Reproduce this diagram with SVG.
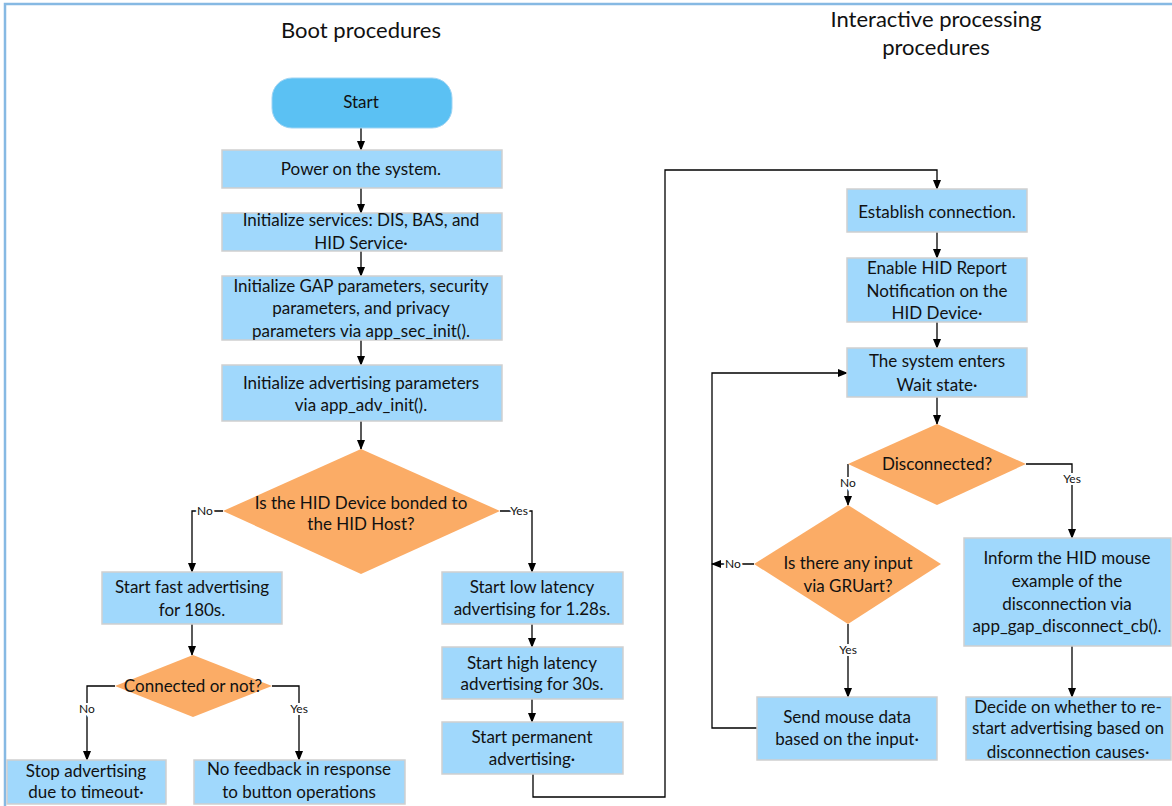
<svg xmlns="http://www.w3.org/2000/svg" width="1172" height="806" viewBox="0 0 1172 806">
<defs>
<marker id="arr" markerWidth="10" markerHeight="10" refX="9" refY="5" orient="auto" markerUnits="userSpaceOnUse">
<path d="M0,1 L10,5 L0,9 Z" fill="#000"/>
</marker>
<style>
.box{fill:#a0d8fc;stroke:#cfcfcf;stroke-width:1.5}
.dia{fill:#fbac66;stroke:none}
.t{font-family:Lato,"Liberation Sans",sans-serif;font-size:17px;fill:#111;text-anchor:middle}
.h{font-family:Lato,"Liberation Sans",sans-serif;font-size:22px;fill:#111;text-anchor:middle}
.lbl{font-family:Lato,"Liberation Sans",sans-serif;font-size:12px;fill:#111;text-anchor:middle;stroke:#fff;stroke-width:4;paint-order:stroke}
.c{fill:none;stroke:#000;stroke-width:1.3}
.ca{fill:none;stroke:#000;stroke-width:1.3;marker-end:url(#arr)}
</style>
</defs>
<rect x="0" y="0" width="1172" height="806" fill="#fff"/>
<rect x="5" y="4" width="1300" height="900" fill="none" stroke="#86b9e3" stroke-width="2.5"/>

<text class="h" x="361" y="38">Boot procedures</text>
<text class="h" x="936" y="27">Interactive processing</text>
<text class="h" x="936" y="55">procedures</text>

<g id="connectors">
<path class="ca" d="M361,128 V150"/>
<path class="ca" d="M361,188 V213"/>
<path class="ca" d="M361,251 V276"/>
<path class="ca" d="M361,340 V365"/>
<path class="ca" d="M361,421 V449"/>
<path class="ca" d="M223,511 H192 V572"/>
<path class="ca" d="M500,511 H532 V572"/>
<path class="ca" d="M192,624 V655"/>
<path class="ca" d="M115,686 H87 V760"/>
<path class="ca" d="M272,686 H299 V760"/>
<path class="ca" d="M532,624 V647"/>
<path class="ca" d="M532,699 V722"/>
<path class="ca" d="M533,774 V797 H665 V170 H937 V189"/>
<path class="ca" d="M937,232 V258"/>
<path class="ca" d="M937,322 V348"/>
<path class="ca" d="M937,397 V424"/>
<path class="ca" d="M848,464 V505"/>
<path class="ca" d="M1026,464 H1072 V538"/>
<path class="ca" d="M754,564 H712"/>
<path class="ca" d="M757,728 H712 V373 H847"/>
<path class="ca" d="M848,624 V697"/>
<path class="ca" d="M1072,646 V697"/>
<text class="lbl" x="205" y="515">No</text>
<text class="lbl" x="519" y="515">Yes</text>
<text class="lbl" x="87" y="713">No</text>
<text class="lbl" x="299" y="713">Yes</text>
<text class="lbl" x="848" y="487">No</text>
<text class="lbl" x="1072" y="483">Yes</text>
<text class="lbl" x="733" y="568">No</text>
<text class="lbl" x="848" y="654">Yes</text>
</g>

<g id="start">
<rect x="272" y="78" width="180" height="50" rx="20" fill="#5bc1f3" stroke="#9fd4f3" stroke-width="1"/>
<text class="t" x="361" y="108">Start</text>
</g>
<g id="power">
<rect class="box" x="222" y="150" width="280" height="38"/>
<text class="t" x="361" y="175">Power on the system.</text>
</g>
<g id="init-services">
<rect class="box" x="222" y="213" width="280" height="38"/>
<text class="t" x="361" y="226">Initialize services: DIS, BAS, and</text>
<text class="t" x="361" y="249">HID Service·</text>
</g>
<g id="init-gap">
<rect class="box" x="222" y="276" width="280" height="64"/>
<text class="t" x="361" y="292">Initialize GAP parameters, security</text>
<text class="t" x="361" y="314">parameters, and privacy</text>
<text class="t" x="361" y="337">parameters via app_sec_init().</text>
</g>
<g id="init-adv">
<rect class="box" x="222" y="365" width="280" height="56"/>
<text class="t" x="361" y="389">Initialize advertising parameters</text>
<text class="t" x="361" y="411">via app_adv_init().</text>
</g>
<g id="bonded">
<polygon class="dia" points="361,449 500,511 361,574 223,511"/>
<text class="t" x="361" y="509">Is the HID Device bonded to</text>
<text class="t" x="361" y="530">the HID Host?</text>
</g>
<g id="fast-adv">
<rect class="box" x="102" y="572" width="180" height="52"/>
<text class="t" x="192" y="593">Start fast advertising</text>
<text class="t" x="192" y="616">for 180s.</text>
</g>
<g id="connected">
<polygon class="dia" points="193,655 272,686 193,717 115,686"/>
<text class="t" x="193" y="692">Connected or not?</text>
</g>
<g id="stop-adv">
<rect class="box" x="7" y="760" width="159" height="44"/>
<text class="t" x="86" y="777">Stop advertising</text>
<text class="t" x="86" y="798">due to timeout·</text>
</g>
<g id="no-feedback">
<rect class="box" x="194" y="760" width="211" height="44"/>
<text class="t" x="299" y="775">No feedback in response</text>
<text class="t" x="299" y="798">to button operations</text>
</g>
<g id="low-latency">
<rect class="box" x="442" y="572" width="181" height="52"/>
<text class="t" x="532" y="593">Start low latency</text>
<text class="t" x="532" y="615">advertising for 1.28s.</text>
</g>
<g id="high-latency">
<rect class="box" x="442" y="647" width="181" height="52"/>
<text class="t" x="532" y="669">Start high latency</text>
<text class="t" x="532" y="690">advertising for 30s.</text>
</g>
<g id="permanent">
<rect class="box" x="442" y="722" width="181" height="52"/>
<text class="t" x="532" y="743">Start permanent</text>
<text class="t" x="532" y="765">advertising·</text>
</g>
<g id="establish">
<rect class="box" x="847" y="189" width="180" height="43"/>
<text class="t" x="937" y="218">Establish connection.</text>
</g>
<g id="enable-hid">
<rect class="box" x="847" y="258" width="180" height="64"/>
<text class="t" x="937" y="274">Enable HID Report</text>
<text class="t" x="937" y="297">Notification on the</text>
<text class="t" x="937" y="319">HID Device·</text>
</g>
<g id="wait">
<rect class="box" x="847" y="348" width="180" height="49"/>
<text class="t" x="937" y="367">The system enters</text>
<text class="t" x="937" y="391">Wait state·</text>
</g>
<g id="disconnected">
<polygon class="dia" points="937,424 1026,464 937,505 848,464"/>
<text class="t" x="937" y="470">Disconnected?</text>
</g>
<g id="input">
<polygon class="dia" points="848,505 941,564 848,624 754,564"/>
<text class="t" x="848" y="569">Is there any input</text>
<text class="t" x="848" y="592">via GRUart?</text>
</g>
<g id="send-mouse">
<rect class="box" x="757" y="697" width="180" height="63"/>
<text class="t" x="847" y="723">Send mouse data</text>
<text class="t" x="847" y="745">based on the input·</text>
</g>
<g id="inform">
<rect class="box" x="964" y="538" width="207" height="108"/>
<text class="t" x="1067" y="564">Inform the HID mouse</text>
<text class="t" x="1067" y="587">example of the</text>
<text class="t" x="1067" y="610">disconnection via</text>
<text class="t" x="1067" y="632">app_gap_disconnect_cb().</text>
</g>
<g id="decide">
<rect class="box" x="966" y="697" width="205" height="63"/>
<text class="t" x="1068" y="713">Decide on whether to re-</text>
<text class="t" x="1068" y="734">start advertising based on</text>
<text class="t" x="1068" y="758">disconnection causes·</text>
</g>
</svg>
